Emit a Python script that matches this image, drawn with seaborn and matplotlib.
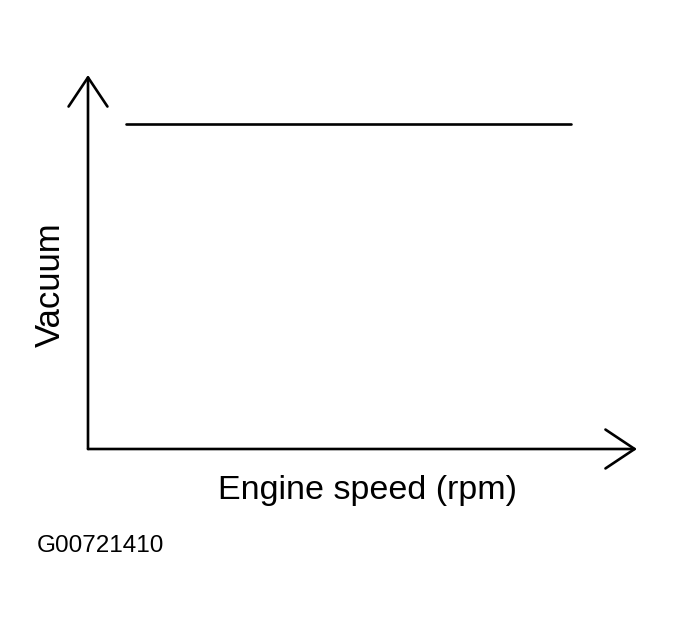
import matplotlib
matplotlib.use("Agg")
import matplotlib.pyplot as plt
import seaborn as sns
import pandas as pd

# engine speed (fraction of axis) vs vacuum (fraction of axis)
rpm = [0.07, 0.88]
vacuum = [0.87, 0.87]
x_label = "Engine speed (rpm)"
y_label = "Vacuum"
fig_code = "G00721410"

sns.set_style("white")
plt.rcParams['font.family'] = ['Liberation Sans', 'DejaVu Sans']
plt.rcParams['text.color'] = 'black'
plt.rcParams['axes.labelcolor'] = 'black'

df = pd.DataFrame({"rpm": rpm, "vacuum": vacuum})

fig = plt.figure(figsize=(6.74, 6.3), dpi=100)
ax = fig.add_axes([88 / 674, 1 - 449 / 630, 549 / 674, 374 / 630])

sns.lineplot(data=df, x="rpm", y="vacuum", ax=ax, color="black", linewidth=1.9)
ax.set_xlim(0, 1)
ax.set_ylim(0, 1)
ax.set_xticks([])
ax.set_yticks([])
for s in ax.spines.values():
    s.set_visible(False)

# axes with open arrow heads
arrow = dict(arrowstyle="->,head_length=21,head_width=14", color="black",
             lw=1.9, mutation_scale=1, shrinkA=0, shrinkB=0)
ax.annotate("", xy=(1, 0), xytext=(0, 0), xycoords="axes fraction",
            textcoords="axes fraction", arrowprops=arrow)
ax.annotate("", xy=(0, 1), xytext=(0, 0), xycoords="axes fraction",
            textcoords="axes fraction", arrowprops=arrow)

ax.set_xlabel(x_label, fontsize=24.5, ha="center", va="center")
ax.xaxis.set_label_coords(0.51, -0.11)
ax.set_ylabel(y_label, fontsize=25, ha="center", va="center")
ax.yaxis.set_label_coords(-0.069, 0.44)

fig.text(37 / 674, 1 - 546 / 630, fig_code, fontsize=17.5, ha="left", va="center")

fig.savefig("out.png", dpi=100, facecolor="white")
